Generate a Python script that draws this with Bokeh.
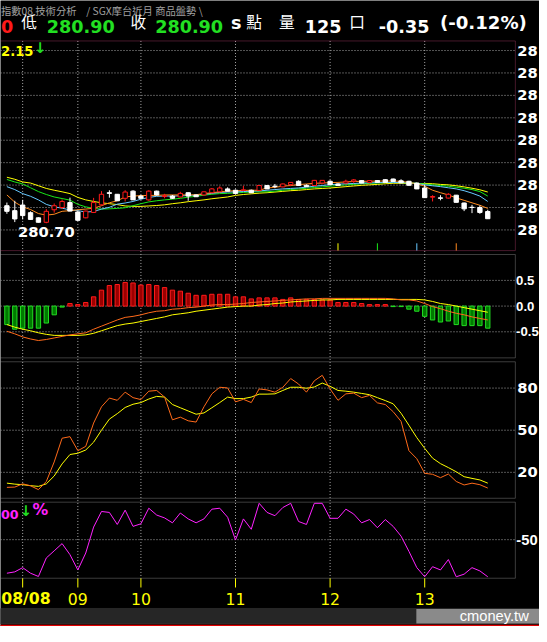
from bokeh.plotting import figure
from bokeh.models import Range1d, Label, BoxAnnotation, ColumnDataSource
from bokeh.core.properties import value
from bokeh.embed import file_html
from bokeh.resources import INLINE

# ------------------------------------------------------------------ data
bar_index = list(range(62))
opens = [281.48, 281.26, 281.51, 281.17, 280.94, 280.74, 281.30, 281.40, 281.62, 281.20,
         280.94, 281.18, 281.52, 282.06, 281.99, 281.81, 282.13, 281.91, 281.74, 282.13,
         281.89, 281.91, 281.87, 282.06, 281.96, 281.96, 282.06, 282.10, 282.23, 282.17,
         282.16, 282.17, 282.16, 282.38, 282.35, 282.32, 282.42, 282.57, 282.39, 282.38,
         282.49, 282.57, 282.45, 282.49, 282.57, 282.60, 282.52, 282.60, 282.64, 282.67,
         282.59, 282.57, 282.49, 282.27, 281.86, 281.83, 281.82, 281.95, 281.60, 281.41,
         281.40, 281.22]
highs = [281.62, 281.70, 281.74, 281.23, 280.96, 281.33, 281.58, 281.76, 281.84, 281.26,
         281.26, 281.83, 282.13, 282.17, 282.00, 282.17, 282.17, 281.96, 282.17, 282.15,
         282.01, 281.96, 282.10, 282.07, 281.98, 282.11, 282.27, 282.35, 282.30, 282.20,
         282.37, 282.20, 282.39, 282.39, 282.45, 282.47, 282.53, 282.61, 282.43, 282.63,
         282.62, 282.61, 282.48, 282.64, 282.67, 282.61, 282.61, 282.61, 282.66, 282.69,
         282.66, 282.59, 282.52, 282.42, 281.95, 281.95, 282.04, 281.96, 281.62, 281.52,
         281.49, 281.30]
lows = [281.12, 280.75, 280.87, 280.85, 280.73, 280.70, 281.17, 281.33, 281.23, 280.80,
        280.92, 281.17, 281.48, 281.84, 281.70, 281.67, 281.74, 281.77, 281.70, 281.93,
        281.81, 281.78, 281.85, 281.70, 281.87, 281.93, 282.04, 282.09, 282.12, 282.02,
        282.15, 282.04, 282.15, 282.22, 282.26, 282.30, 282.35, 282.37, 282.33, 282.37,
        282.48, 282.41, 282.37, 282.48, 282.49, 282.48, 282.51, 282.51, 282.51, 282.55,
        282.48, 282.38, 282.22, 281.83, 281.67, 281.72, 281.80, 281.63, 281.24, 281.15,
        281.12, 280.90]
closes = [281.23, 280.89, 281.04, 280.87, 280.74, 281.23, 281.48, 281.67, 281.24, 280.83,
          281.24, 281.62, 281.99, 282.03, 281.70, 282.09, 281.74, 281.81, 282.13, 281.96,
          281.93, 281.81, 282.03, 281.91, 281.88, 282.10, 282.23, 282.27, 282.13, 282.03,
          282.19, 282.06, 282.38, 282.23, 282.33, 282.45, 282.52, 282.38, 282.33, 282.61,
          282.61, 282.42, 282.38, 282.57, 282.63, 282.49, 282.60, 282.52, 282.52, 282.56,
          282.50, 282.39, 282.23, 281.84, 281.89, 281.81, 281.99, 281.63, 281.34, 281.40,
          281.18, 280.90]
ma5 = [281.96, 281.64, 281.43, 281.31, 281.13, 281.06, 281.10, 281.23, 281.26, 281.30,
       281.33, 281.37, 281.48, 281.61, 281.70, 281.87, 281.91, 281.93, 281.94, 281.94,
       281.96, 281.96, 281.96, 281.96, 281.97, 282.02, 282.06, 282.10, 282.13, 282.15,
       282.16, 282.17, 282.17, 282.27, 282.30, 282.35, 282.38, 282.42, 282.45, 282.48,
       282.49, 282.51, 282.52, 282.54, 282.56, 282.57, 282.57, 282.58, 282.58, 282.58,
       282.57, 282.52, 282.46, 282.35, 282.17, 282.06, 281.96, 281.83, 281.72, 281.61,
       281.50, 281.36]
ma10 = [282.33, 282.20, 282.02, 281.90, 281.74, 281.54, 281.43, 281.37, 281.29, 281.26,
        281.20, 281.22, 281.33, 281.41, 281.55, 281.60, 281.67, 281.77, 281.85, 281.90,
        281.91, 281.91, 281.92, 281.93, 281.96, 281.99, 282.03, 282.07, 282.09, 282.10,
        282.11, 282.13, 282.14, 282.17, 282.20, 282.23, 282.25, 282.27, 282.31, 282.35,
        282.38, 282.42, 282.44, 282.46, 282.47, 282.49, 282.50, 282.51, 282.52, 282.52,
        282.51, 282.50, 282.47, 282.41, 282.37, 282.33, 282.28, 282.23, 282.15, 282.04,
        281.91, 281.67]
ma15 = [282.65, 282.54, 282.45, 282.28, 282.11, 281.98, 281.87, 281.80, 281.73, 281.54,
        281.43, 281.36, 281.33, 281.34, 281.36, 281.39, 281.48, 281.57, 281.65, 281.70,
        281.74, 281.77, 281.81, 281.86, 281.90, 281.95, 281.99, 282.02, 282.03, 282.05,
        282.07, 282.09, 282.10, 282.10, 282.13, 282.17, 282.20, 282.23, 282.26, 282.29,
        282.32, 282.35, 282.38, 282.41, 282.43, 282.46, 282.48, 282.49, 282.51, 282.52,
        282.51, 282.50, 282.48, 282.45, 282.41, 282.38, 282.35, 282.30, 282.26, 282.20,
        282.11, 281.91]
ma20 = [282.75, 282.66, 282.54, 282.49, 282.37, 282.25, 282.17, 282.10, 282.02, 281.85,
        281.74, 281.67, 281.61, 281.57, 281.53, 281.47, 281.45, 281.45, 281.47, 281.49,
        281.52, 281.57, 281.61, 281.66, 281.70, 281.74, 281.79, 281.83, 281.87, 281.94,
        281.98, 282.01, 282.04, 282.06, 282.09, 282.12, 282.15, 282.17, 282.20, 282.23,
        282.25, 282.27, 282.30, 282.33, 282.36, 282.39, 282.41, 282.43, 282.46, 282.48,
        282.48, 282.47, 282.47, 282.47, 282.46, 282.43, 282.41, 282.37, 282.32, 282.26,
        282.19, 282.09]
ma_deduction_index = [42, 47, 52, 57]          # MA20, MA15, MA10, MA5
macd_hist = [-0.36, -0.45, -0.43, -0.43, -0.43, -0.33, -0.17, -0.02, 0.05, 0.03,
             0.07, 0.18, 0.31, 0.40, 0.42, 0.46, 0.45, 0.41, 0.42, 0.40,
             0.36, 0.31, 0.29, 0.25, 0.21, 0.21, 0.23, 0.23, 0.23, 0.18,
             0.18, 0.14, 0.16, 0.16, 0.16, 0.13, 0.16, 0.13, 0.13, 0.13,
             0.12, 0.12, 0.07, 0.07, 0.07, 0.05, 0.03, 0.03, 0.03, -0.01,
             -0.01, -0.06, -0.10, -0.20, -0.27, -0.31, -0.29, -0.36, -0.38, -0.38,
             -0.38, -0.43]
macd_dif = [-0.49, -0.54, -0.60, -0.64, -0.67, -0.65, -0.62, -0.59, -0.56, -0.54,
            -0.52, -0.45, -0.39, -0.33, -0.27, -0.22, -0.20, -0.17, -0.13, -0.10,
            -0.09, -0.06, -0.05, -0.03, -0.02, 0.00, 0.02, 0.03, 0.03, 0.04,
            0.05, 0.07, 0.08, 0.09, 0.10, 0.11, 0.12, 0.13, 0.14, 0.14,
            0.15, 0.15, 0.15, 0.15, 0.15, 0.15, 0.15, 0.15, 0.15, 0.14,
            0.12, 0.12, 0.10, 0.05, -0.01, -0.05, -0.10, -0.14, -0.17, -0.21,
            -0.24, -0.27]
macd_signal = [-0.36, -0.41, -0.45, -0.48, -0.52, -0.55, -0.57, -0.57, -0.57, -0.57,
               -0.56, -0.53, -0.48, -0.43, -0.38, -0.35, -0.33, -0.30, -0.27, -0.24,
               -0.21, -0.17, -0.15, -0.13, -0.10, -0.08, -0.06, -0.04, -0.02, -0.01,
               0.00, 0.00, 0.02, 0.03, 0.05, 0.06, 0.08, 0.09, 0.10, 0.11,
               0.12, 0.12, 0.13, 0.13, 0.13, 0.13, 0.13, 0.13, 0.13, 0.13,
               0.13, 0.13, 0.13, 0.12, 0.09, 0.05, 0.03, 0.00, -0.03, -0.06,
               -0.09, -0.12]
k_values = [9.3, 9.5, 11.8, 10.4, 7.7, 13.5, 27.4, 44.3, 45.4, 35.4,
            38.5, 55.1, 66.7, 72.9, 71.3, 77.1, 73.2, 71.8, 77.8, 78.3,
            73.6, 57.4, 59.3, 56.7, 55.8, 66.7, 75.9, 80.6, 80.1, 70.2,
            72.0, 69.7, 79.4, 78.7, 77.1, 80.6, 86.8, 82.9, 77.1, 85.2,
            89.1, 79.4, 71.3, 75.9, 76.4, 73.2, 74.8, 69.5, 68.3, 63.2,
            56.3, 35.4, 29.7, 19.3, 18.6, 16.2, 18.8, 13.5, 11.0, 12.3,
            11.2, 8.8]
d_values = [12.3, 11.6, 11.2, 10.5, 10.0, 11.8, 17.4, 26.0, 32.7, 33.6,
            35.9, 41.5, 50.0, 57.9, 61.8, 66.2, 68.5, 69.7, 72.2, 74.1,
            73.6, 68.3, 66.0, 63.7, 61.4, 62.3, 66.0, 69.7, 73.6, 72.5,
            72.5, 73.6, 75.7, 75.7, 75.9, 78.3, 80.6, 80.6, 79.9, 80.8,
            83.6, 81.3, 78.3, 77.8, 77.1, 76.2, 75.3, 73.2, 71.1, 68.8,
            62.1, 53.5, 44.7, 37.1, 30.1, 26.2, 23.4, 20.4, 16.9, 15.7,
            14.6, 12.3]
wr_values = [-95.2, -93.4, -87.7, -95.2, -99.6, -74.6, -65.0, -55.3, -70.2, -90.8,
             -68.0, -33.0, -12.0, -13.3, -29.5, -10.2, -32.1, -28.6, -7.6, -16.8,
             -20.7, -27.3, -14.1, -22.0, -27.3, -22.0, -8.9, -7.6, -19.8, -50.5,
             -22.0, -36.0, -1.0, -13.3, -17.7, -6.7, -1.0, -25.5, -29.5, -1.0,
             -1.0, -21.2, -21.2, -8.9, -15.5, -27.3, -22.9, -33.9, -22.9, -32.1,
             -45.2, -65.8, -87.7, -100.0, -86.4, -90.8, -76.8, -100.0, -96.5, -87.7,
             -92.1, -100.0]
time_ticks = [2, 9, 17, 29, 41, 53]
time_labels = ["08/08", "09", "10", "11", "12", "13"]
# the price scale's labels are cut by the picture edge: only "28" is visible
price_ticks = [280.4, 281.4, 282.4, 283.4, 284.4, 285.4, 286.4, 287.4, 288.4]
price_tick_text = "28"
macd_ticks = [-0.5, 0.0, 0.5]
kd_ticks = [20, 50, 80]
wr_ticks = [-50]
low_index, low_mark = 5, 280.70
header_low, header_close, header_volume = 280.90, 280.90, 125
header_change, header_change_pct = -0.35, -0.12
ma_flag_text = "2.15"        # visible tail of the cut MA value
wr_flag_text = "00"          # visible tail of the cut W%R value
title_left = "指數08 技術分析"
title_right = "/ SGX摩台近月 商品盤勢  \\"

# ------------------------------------------------------------------ geometry
# The frame fills the whole canvas; the ranges map the reference picture
# (547 x 642 px) onto it, so every position below is a reference pixel.
W, H = 539, 626
REF_W, REF_H = 547, 642
BAR0, BARW = 6.5, 8.0
FSCALE = 0.98


def xd(px):
    return (px - BAR0) / BARW


def mapper(v_ref, y_ref, ppu):
    return lambda y: v_ref + (y_ref - y) / ppu


def fs(px):
    return f"{px * FSCALE:.1f}px"


price_at = mapper(280.4, 235.3, 23.0)
macd_at = mapper(0.0, 313.4, 52.7)
kd_at = mapper(50.0, 440.7, 1.44)
wr_at = mapper(0.0, 514.9, 0.761)

BLACK, WHITE, RED, GREEN = "#000000", "#ffffff", "#ff1a1a", "#22e022"
YELLOW, ORANGE, BLUE, LIME = "#ffff00", "#ff8a1e", "#66c8ff", "#18e818"
MAGENTA, PINK, FRAMEGREY, GRID = "#ff22ff", "#e8508c", "#c8c8c8", "#a8a8a8"
NUMFONT, CJKFONT, NARROW = "DejaVu Sans", "Noto Sans CJK TC", "Liberation Sans"

p = figure(width=W, height=H,
           x_range=Range1d(xd(0), xd(REF_W)),
           y_range=Range1d(price_at(REF_H), price_at(0)),
           x_axis_type=None, y_axis_type=None,
           toolbar_location=None, output_backend="svg",
           background_fill_color=BLACK, border_fill_color=BLACK,
           min_border_left=0, min_border_right=0, min_border_top=0, min_border_bottom=0)
p.outline_line_color = None
p.extra_y_ranges = {
    "macd": Range1d(macd_at(REF_H), macd_at(0)),
    "kd": Range1d(kd_at(REF_H), kd_at(0)),
    "wr": Range1d(wr_at(REF_H), wr_at(0)),
}

# ------------------------------------------------------------------ dotted grids
nt = len(time_ticks)
p.segment(x0=time_ticks, x1=time_ticks, y0=[price_at(41.5)] * nt,
          y1=[price_at(592.5)] * nt, line_color=GRID, line_dash="1 2", line_width=1)
for ticks, rn in [(price_ticks, "default"), (macd_ticks, "macd"),
                  (kd_ticks, "kd"), (wr_ticks, "wr")]:
    p.segment(x0=[xd(0)] * len(ticks), x1=[xd(522)] * len(ticks), y0=ticks, y1=ticks,
              y_range_name=rn, line_color=GRID, line_dash="1 2", line_width=1)

# ------------------------------------------------------------------ panel 1: candles + MA
up = [c > o for o, c in zip(opens, closes)]
csrc = ColumnDataSource(dict(
    x=bar_index, h=highs, l=lows,
    top=[max(o, c) for o, c in zip(opens, closes)],
    bottom=[min(o, c) for o, c in zip(opens, closes)],
    line=[RED if u else WHITE for u in up],
    fill=[BLACK if u else WHITE for u in up]))
for ma, col in [(ma20, YELLOW), (ma15, LIME), (ma10, BLUE), (ma5, ORANGE)]:
    p.line(bar_index, ma, line_color=col, line_width=1)
p.segment(x0="x", y0="h", x1="x", y1="l", line_color="line", source=csrc)
p.vbar(x="x", width=0.55, top="top", bottom="bottom", fill_color="fill",
       line_color="line", source=csrc)
p.segment(x0=ma_deduction_index, x1=ma_deduction_index,
          y0=[price_at(256.5)] * 4, y1=[price_at(249)] * 4,
          line_color=[YELLOW, LIME, BLUE, ORANGE], line_width=1)

# ------------------------------------------------------------------ panel 2: MACD
pos = [v >= 0 for v in macd_hist]
p.vbar(x=bar_index, top=macd_hist, bottom=0, width=0.55, y_range_name="macd",
       fill_color=["#9a0000" if u else "#007a00" for u in pos],
       line_color=["#ff1a1a" if u else "#22dd22" for u in pos])
p.line(bar_index, macd_signal, line_color=YELLOW, line_width=1, y_range_name="macd")
p.line(bar_index, macd_dif, line_color="#ff6a1a", line_width=1, y_range_name="macd")

# ------------------------------------------------------------------ panel 3: KD
p.line(bar_index, d_values, line_color=YELLOW, line_width=1, y_range_name="kd")
p.line(bar_index, k_values, line_color="#ff6a1a", line_width=1, y_range_name="kd")

# ------------------------------------------------------------------ panel 4: W%R
p.line(bar_index, wr_values, line_color=MAGENTA, line_width=1, y_range_name="wr")

# ------------------------------------------------------------------ panel borders
for top_px, bot_px, col, f, rn in [(41.5, 256.5, PINK, price_at, "default"),
                                   (260.5, 366.5, FRAMEGREY, macd_at, "macd"),
                                   (370.5, 510.5, FRAMEGREY, kd_at, "kd"),
                                   (514.5, 592.5, FRAMEGREY, wr_at, "wr")]:
    p.add_layout(BoxAnnotation(left=xd(-20), right=xd(522.5), top=f(top_px),
                               bottom=f(bot_px), fill_color=None, line_color=col,
                               line_width=1, y_range_name=rn))

# ------------------------------------------------------------------ time axis
p.segment(x0=time_ticks, x1=time_ticks, y0=[wr_at(592.5)] * nt, y1=[wr_at(602)] * nt,
          y_range_name="wr", line_color=YELLOW, line_width=1)
p.text(x=time_ticks[1:], y=[wr_at(614)] * (nt - 1), text=time_labels[1:],
       y_range_name="wr", text_color=YELLOW, text_font=value(NUMFONT),
       text_font_size=fs(16), text_align="center", text_baseline="middle")
p.text(x=[xd(25.8)], y=[wr_at(613.5)], text=time_labels[:1], y_range_name="wr",
       text_color=YELLOW, text_font=value(NUMFONT), text_font_size=fs(16),
       text_font_style="bold", text_align="center", text_baseline="middle")

# ------------------------------------------------------------------ right value labels
for ticks, rn, texts, font, size, px in [
        (price_ticks, "default", [price_tick_text] * len(price_ticks), NUMFONT, 15, 524.5),
        (macd_ticks, "macd", [f"{t:.1f}" for t in macd_ticks], NARROW, 13.5, 523.2),
        (kd_ticks, "kd", [f"{t:d}" for t in kd_ticks], NUMFONT, 15, 524.5),
        (wr_ticks, "wr", [f"{t:d}" for t in wr_ticks], NARROW, 15, 523.5)]:
    for t, txt in zip(ticks, texts):
        p.add_layout(Label(x=xd(px), y=t, y_range_name=rn, text=txt,
                           text_color=WHITE, text_font=font, text_font_size=fs(size),
                           text_font_style="bold", text_baseline="middle"))

# ------------------------------------------------------------------ low marker
p.add_layout(Label(x=low_index, y=price_at(237), text=f"{low_mark:.2f}",
                   text_color=WHITE, text_font=NUMFONT, text_font_size=fs(15),
                   text_font_style="bold", text_align="center", text_baseline="middle"))

# ------------------------------------------------------------------ panel flags
p.add_layout(Label(x=xd(0.5), y=price_at(57.3), text=ma_flag_text,
                   text_color=YELLOW, text_font=NUMFONT, text_font_size=fs(13.5),
                   text_font_style="bold"))
p.add_layout(Label(x=xd(34), y=price_at(57.3), text="↓", text_color="#22dd22",
                   text_font=NUMFONT, text_font_size=fs(15), text_font_style="bold"))
p.add_layout(Label(x=xd(0.5), y=wr_at(531.7), y_range_name="wr",
                   text=wr_flag_text, text_color=MAGENTA, text_font=NUMFONT,
                   text_font_size=fs(13), text_font_style="bold"))
p.add_layout(Label(x=xd(19.5), y=wr_at(531.7), y_range_name="wr", text="↓",
                   text_color="#22dd22", text_font=NUMFONT, text_font_size=fs(15),
                   text_font_style="bold"))
p.add_layout(Label(x=xd(32.5), y=wr_at(531.7), y_range_name="wr", text="%",
                   text_color=MAGENTA, text_font=NUMFONT, text_font_size=fs(16),
                   text_font_style="bold"))

# ------------------------------------------------------------------ header lines
for txt, px in [(title_left, 0.5), (title_right, 87)]:
    p.add_layout(Label(x=xd(px), y=price_at(2.5), text=txt, text_color="#a0a0a0",
                       text_font=CJKFONT, text_font_size=fs(10.5), text_baseline="top"))
header = [("0", 0.5, NUMFONT, RED, "bold", 18),
          ("低", 21, CJKFONT, WHITE, "normal", 16),
          (f"{header_low:.2f}", 47, NUMFONT, GREEN, "bold", 18),
          ("收", 132, CJKFONT, WHITE, "normal", 16),
          (f"{header_close:.2f}", 157, NUMFONT, GREEN, "bold", 18),
          ("s", 234, NUMFONT, WHITE, "bold", 18),
          ("點", 249.5, CJKFONT, WHITE, "normal", 16),
          ("量", 282.6, CJKFONT, WHITE, "normal", 16),
          (f"{header_volume}", 308.8, NUMFONT, WHITE, "bold", 18),
          ("口", 354, CJKFONT, WHITE, "normal", 16),
          (f"{header_change:.2f}", 383.8, NUMFONT, WHITE, "bold", 18),
          (f"({header_change_pct:.2f}%)", 446, NUMFONT, WHITE, "bold", 18.5)]
for txt, px, font, col, style, size in header:
    p.add_layout(Label(x=xd(px), y=price_at(33.5), text=txt, text_color=col,
                       text_font=font, text_font_style=style, text_font_size=fs(size)))

# ------------------------------------------------------------------ scroll bar strip
p.add_layout(BoxAnnotation(left=xd(-20), right=xd(560), top=wr_at(623.5), bottom=wr_at(639.5),
                           fill_color="#262626", fill_alpha=1, line_color="#5a5a5a",
                           y_range_name="wr"))
p.add_layout(BoxAnnotation(left=xd(422), right=xd(560), top=wr_at(624), bottom=wr_at(639),
                           fill_color="#8a8a8a", fill_alpha=1, line_color=None,
                           y_range_name="wr"))
p.add_layout(BoxAnnotation(left=xd(-20), right=xd(560), top=wr_at(640.2), bottom=wr_at(650),
                           fill_color="#e00000", fill_alpha=1, line_color=None,
                           y_range_name="wr"))
p.add_layout(Label(x=xd(466), y=wr_at(631.5), y_range_name="wr", text="cmoney.tw",
                   text_color=WHITE, text_font="Liberation Sans", text_font_size=fs(15),
                   text_baseline="middle"))

open("out.html", "w").write(file_html(p, INLINE))
